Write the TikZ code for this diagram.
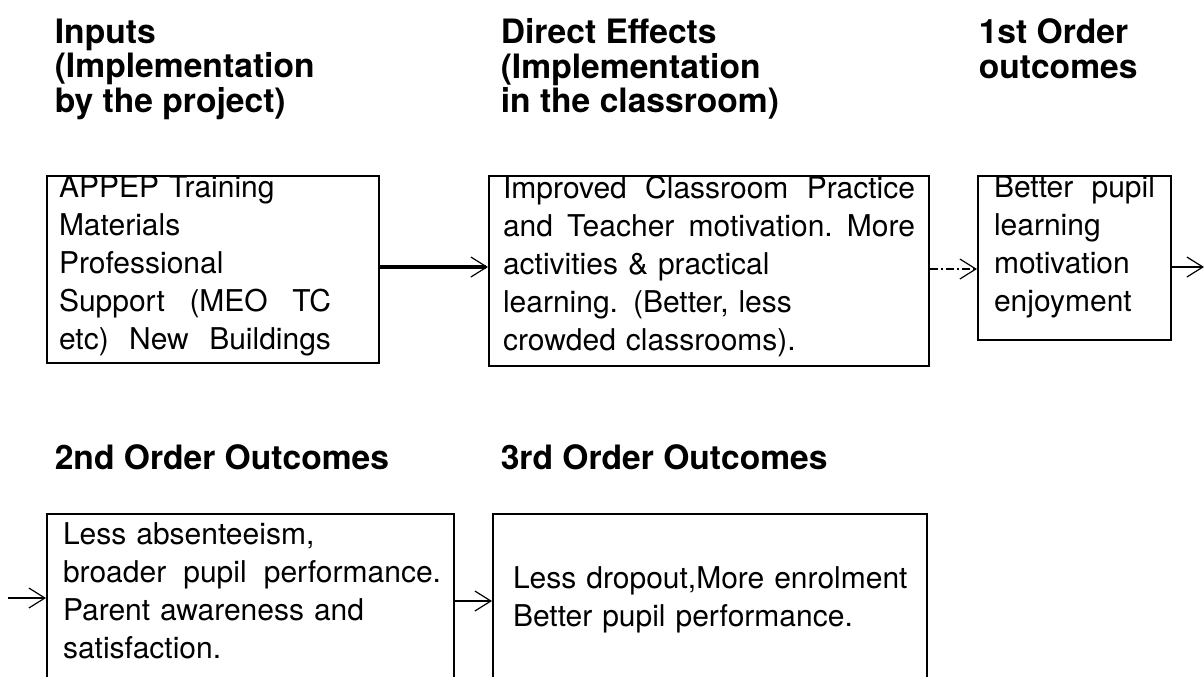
\documentclass[tikz,border=0pt]{standalone}
\usepackage{fontspec}
\setmainfont{TeX Gyre Heros}
\usetikzlibrary{arrows.meta, positioning}

% stretch the word spaces of one line to a given width
\newcommand{\spreadline}[2]{{\spaceskip=0.3333em plus 1fil\xspaceskip=\spaceskip\relax\makebox[#1][s]{#2}}}
% empty room below the last line of a box
\newcommand{\padbelow}[1]{\rule[-#1]{0pt}{#1}}

\begin{document}
\begin{tikzpicture}[x=0.5pt, y=-0.5pt, >={Straight Barb[length=8pt, width=10pt, line width=0.6pt]}, line width=0.8pt,
  heading/.style={anchor=north west, inner sep=0pt, align=left, font=\fontsize{16.8}{17.25}\selectfont\bfseries},
  stagebox/.style={draw, line width=1pt, rectangle, anchor=north west, inner ysep=-2pt, inner xsep=6pt, align=left, font=\fontsize{15}{19}\selectfont}]

  \useasboundingbox (0,0) rectangle (1204,676);

  % column headings
  \node [heading] (hinputs) at (54,18) {Inputs\\(Implementation\\by the project)};
  \node [heading] (hdirect) at (500,18) {Direct Effects\\(Implementation\\in the classroom)};
  \node [heading] (hfirst) at (978,18) {1st Order\\outcomes};
  \node [heading] (hsecond) at (54,444) {2nd Order Outcomes};
  \node [heading] (hthird) at (500,444) {3rd Order Outcomes};

  % stages
  \node [stagebox, text width=154pt, minimum height=93.5pt] (inputs) at (46,175)
    {APPEP Training\\Materials\\Professional\\\spreadline{136pt}{Support (MEO TC}\\\spreadline{136pt}{etc) New Buildings}\padbelow{6.7pt}};
  \node [stagebox, inner xsep=7pt, text width=206pt, minimum height=95pt] (direct) at (488,175)
    {\spreadline{\linewidth}{Improved Classroom Practice}\\\spreadline{\linewidth}{and Teacher motivation. More}\\activities \& practical\\learning. (Better, less\\crowded classrooms).\padbelow{8.2pt}};
  \node [stagebox, inner xsep=8pt, text width=80.5pt, minimum height=82pt] (first) at (977,175)
    {\spreadline{\linewidth}{Better pupil}\\learning\\motivation\\enjoyment\padbelow{14.2pt}};
  \node [stagebox, inner xsep=8pt, text width=187.5pt, minimum height=90pt] (second) at (46,513)
    {Less absenteeism,\\\spreadline{189pt}{broader pupil performance.}\\Parent awareness and\\satisfaction.\padbelow{13.2pt}};
  \node [stagebox, inner xsep=10pt, text width=197pt, minimum height=100pt] (third) at (492,513)
    {\spreadline{\linewidth}{Less dropout,More enrolment}\\Better pupil performance.\padbelow{17.2pt}};

  \coordinate (entry) at (8,598);
  \coordinate (exit) at (1204,267);

  \draw [->, line width=1.6pt] (inputs.east |- exit) -- (direct.west |- exit);
  \draw [->, dash pattern=on 4pt off 1.5pt on 1pt off 1.5pt] ([yshift=-1pt]direct.east |- exit) -- ([yshift=-1pt]first.west |- exit);
  \draw [->] (first.east |- exit) -- (exit);
  \draw [->] (entry) -- (entry -| second.west);
  \draw [->] ([yshift=1.5pt]second.east) -- ([yshift=1.5pt]second.east -| third.west);
\end{tikzpicture}
\end{document}
